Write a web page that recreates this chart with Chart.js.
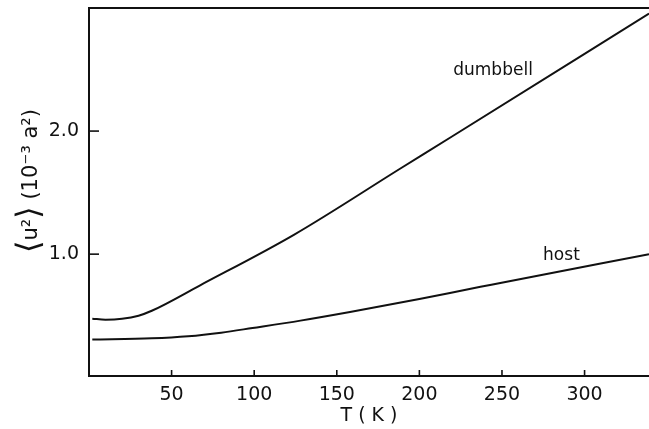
<!DOCTYPE html>
<html>
<head>
<meta charset="utf-8">
<script src="https://cdn.jsdelivr.net/npm/chart.js@4.4.1/dist/chart.umd.min.js"></script>
<style>
  html, body { margin: 0; padding: 0; background: #fff; }
  #wrap { width: 649px; height: 429px; }
</style>
</head>
<body>
<div id="wrap"><canvas id="chartUI" width="649" height="429"></canvas></div>
<script>
// data: T in K, <u^2> in 1e-3 a^2
var tempDumbbell = [2, 10, 20, 30, 38, 67, 124, 189, 219, 339];
var uDumbbell    = [0.475, 0.468, 0.475, 0.50, 0.54, 0.745, 1.157, 1.70, 1.95, 2.955];
var tempHost = [2, 38, 60, 80, 99, 128, 158, 200, 237, 249, 339];
var uHost    = [0.306, 0.316, 0.333, 0.362, 0.40, 0.46, 0.53, 0.635, 0.735, 0.765, 1.0];

var xTicks = [50, 100, 150, 200, 250, 300];
var yTicks = [1.0, 2.0];

// curve labels, in data coordinates
var curveLabels = [
  { text: 'dumbbell', x: 220.5, y: 2.495, align: 'left' },
  { text: 'host', x: 286, y: 0.985, align: 'center' }
];

// y title pieces: brackets drawn bigger than the rest
var yTitleParts = [
  { text: '⟨', size: 32 },
  { text: 'u²', size: 21 },
  { text: '⟩', size: 32 },
  { text: ' (10⁻³ a²)', size: 21 }
];

var ink = '#111';
var fontFamily = "'DejaVu Sans', sans-serif";

var toXY = function(xs, ys) {
  return xs.map(function(v, i) { return { x: v, y: ys[i] }; });
};

// frame top line, inward tick marks, curve labels, y title
var framePlugin = {
  id: 'frame',
  afterDraw: function(chart) {
    var c = chart.ctx, a = chart.chartArea;
    var sx = chart.scales.x, sy = chart.scales.y;
    c.save();
    c.strokeStyle = ink;
    c.lineWidth = 2;
    c.beginPath();
    c.moveTo(a.left - 1, a.top);
    c.lineTo(a.right, a.top);
    c.stroke();
    c.lineWidth = 1.6;
    xTicks.forEach(function(v) {
      var px = sx.getPixelForValue(v);
      c.beginPath();
      c.moveTo(px, a.bottom);
      c.lineTo(px, a.bottom - 6);
      c.stroke();
    });
    yTicks.forEach(function(v) {
      var py = sy.getPixelForValue(v);
      c.beginPath();
      c.moveTo(a.left, py);
      c.lineTo(a.left + 10, py);
      c.stroke();
    });
    c.fillStyle = ink;
    c.font = '17px ' + fontFamily;
    c.textBaseline = 'middle';
    curveLabels.forEach(function(l) {
      c.textAlign = l.align;
      c.fillText(l.text, sx.getPixelForValue(l.x), sy.getPixelForValue(l.y));
    });

    // rotated y title
    var total = 0;
    yTitleParts.forEach(function(p) {
      c.font = p.size + 'px ' + fontFamily;
      p.w = c.measureText(p.text).width;
      total += p.w;
    });
    c.translate(29, 181);
    c.rotate(-Math.PI / 2);
    c.textAlign = 'left';
    c.textBaseline = 'alphabetic';
    var pos = -total / 2;
    yTitleParts.forEach(function(p) {
      c.font = p.size + 'px ' + fontFamily;
      var dy = p.size > 21 ? 10 : 8;
      c.fillText(p.text, pos, dy);
      pos += p.w;
    });
    c.restore();
  }
};

var lineStyle = {
  borderColor: ink,
  borderWidth: 2,
  pointRadius: 0,
  fill: false,
  cubicInterpolationMode: 'monotone'
};

var chartConfig = {
  type: 'line',
  data: {
    datasets: [
      Object.assign({ label: 'dumbbell', data: toXY(tempDumbbell, uDumbbell) }, lineStyle),
      Object.assign({ label: 'host', data: toXY(tempHost, uHost) }, lineStyle)
    ]
  },
  options: {
    responsive: false,
    animation: false,
    layout: { padding: { top: 8, right: 0, left: 0, bottom: 0 } },
    plugins: { legend: { display: false }, tooltip: { enabled: false } },
    scales: {
      x: {
        type: 'linear',
        min: 0,
        max: 339,
        afterBuildTicks: function(s) { s.ticks = xTicks.map(function(v) { return { value: v }; }); },
        afterFit: function(s) { s.height = 53; s.paddingLeft = 0; s.paddingRight = 0; },
        grid: { display: false, drawTicks: false },
        border: { display: true, color: ink, width: 2 },
        ticks: { color: ink, padding: 8, maxRotation: 0, font: { family: fontFamily, size: 19 } },
        title: {
          display: true, text: 'T ( K )', color: ink,
          font: { family: fontFamily, size: 19 }, padding: { top: 0, bottom: 2 }
        }
      },
      y: {
        min: 0.01,
        max: 3.0,
        afterBuildTicks: function(s) { s.ticks = yTicks.map(function(v) { return { value: v }; }); },
        afterFit: function(s) { s.width = 89; s.paddingTop = 0; s.paddingBottom = 0; },
        grid: { display: false, drawTicks: false },
        border: { display: true, color: ink, width: 2 },
        ticks: {
          color: ink, padding: 10, font: { family: fontFamily, size: 19 },
          callback: function(v) { return v.toFixed(1); }
        },
        title: { display: false }
      }
    }
  },
  plugins: [framePlugin]
};

var scatterChart = new Chart(document.getElementById('chartUI'), chartConfig);
</script>
</body>
</html>
